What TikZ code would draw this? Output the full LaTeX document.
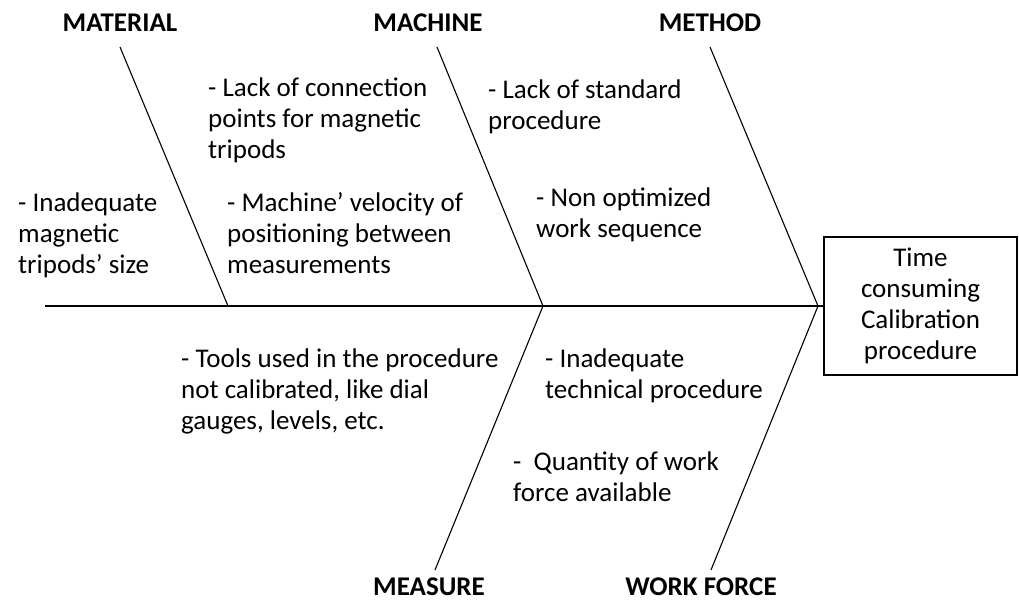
\documentclass[tikz,border=0pt]{standalone}
\usepackage{fontspec}
\setmainfont{Carlito}
\begin{document}
\begin{tikzpicture}[x=1pt,y=-1pt,
  txt/.style={inner sep=0pt, anchor=base west, align=left, font=\fontsize{27}{31}\selectfont},
  cat/.style={inner sep=0pt, anchor=base, font=\fontsize{27}{31}\selectfont\bfseries},
  bone/.style={line width=1.1pt},
  spine/.style={line width=2pt},
  effect/.style={draw, line width=2pt, minimum width=193pt, minimum height=138pt, align=center, inner sep=0pt, font=\fontsize{27}{31}\selectfont}]
\useasboundingbox (0,0) rectangle (1019,601);
% effect box
\node[effect] (box) at (920.5,306) {Time\\consuming\\Calibration\\procedure};
% spine
\coordinate (tail) at (45,306);
\coordinate (j1) at (228,306);
\coordinate (j2) at (543,306);
\coordinate (j3) at (818,306);
\draw[spine] (tail) -- (box.west);
% category labels
\node[cat] (material) at (120,32) {MATERIAL};
\node[cat] (machine) at (428,32) {MACHINE};
\node[cat] (method) at (710,32) {METHOD};
\node[cat] (measure) at (429,595) {MEASURE};
\node[cat] (workforce) at (701,595) {WORK FORCE};
% bone ends
\coordinate (t1) at (120,47);
\coordinate (t2) at (437,47);
\coordinate (t3) at (710,47);
\coordinate (b1) at (435,570);
\coordinate (b2) at (711,570);
\draw[bone] (t1) -- (j1);
\draw[bone] (t2) -- (j2);
\draw[bone] (t3) -- (j3);
\draw[bone] (b1) -- (j2);
\draw[bone] (b2) -- (j3);
% causes (anchor = baseline of the last line)
\node[txt] (c1) at (18,274) {- Inadequate\\magnetic\\tripods’ size};
\node[txt] (c2) at (208,159) {- Lack of connection\\points for magnetic\\tripods};
\node[txt] (c3) at (227,274) {- Machine’ velocity of\\positioning between\\measurements};
\node[txt] (c4) at (488,130) {- Lack of standard\\procedure};
\node[txt] (c5) at (536,238) {- Non optimized\\work sequence};
\node[txt] (c6) at (181,429) {- Tools used in the procedure\\not calibrated, like dial\\gauges, levels, etc.};
\node[txt] (c7) at (545,398) {- Inadequate\\technical procedure};
\node[txt] (c8) at (513,501) {-\ \ Quantity of work\\force available};
\end{tikzpicture}
\end{document}
